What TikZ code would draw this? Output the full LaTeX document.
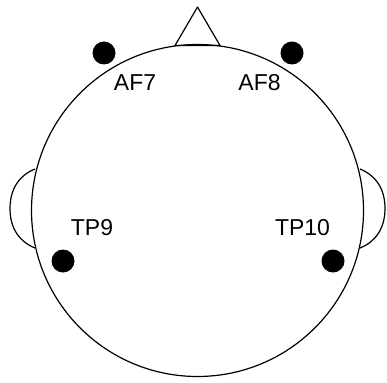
\documentclass[tikz,border=0pt]{standalone}
\usepackage{fontspec}
\setmainfont{Liberation Sans}
\usetikzlibrary{positioning}
\tikzset{
  electrode/.style={circle,fill=black,inner sep=0pt,minimum size=23pt},
  electrodelabel/.style={font=\fontsize{23}{25}\selectfont,inner sep=0pt},
  headline/.style={line width=1.2pt,line join=round}
}

\begin{document}
\begin{tikzpicture}[x=1pt,y=-1pt]
  \useasboundingbox (0,0) rectangle (387,382);
  % head, nose and ears
  \draw[headline] (197.5,210.5) circle[radius=166pt];
  \draw[headline] (175,45.5) -- (197.5,7) -- (220,45.5) -- cycle;
  \draw[headline] (35,169) .. controls (20,175) and (10,188) .. (10,208.5)
    .. controls (10,229) and (20,242) .. (35,248);
  \draw[headline] (360,169) .. controls (375,175) and (385,188) .. (385,208.5)
    .. controls (385,229) and (375,242) .. (360,248);
  % electrodes
  \node[electrode] (af7) at (104,53) {};
  \node[electrode] (af8) at (292,53) {};
  \node[electrode] (tp9) at (63,261) {};
  \node[electrode] (tp10) at (333,261) {};
  \node[electrodelabel] (af7label) at (135,82.5) {AF7};
  \node[electrodelabel] (af8label) at (259.5,82.5) {AF8};
  \node[electrodelabel] (tp9label) at (92,227.5) {TP9};
  \node[electrodelabel] (tp10label) at (302.5,227.5) {TP10};
\end{tikzpicture}
\end{document}
